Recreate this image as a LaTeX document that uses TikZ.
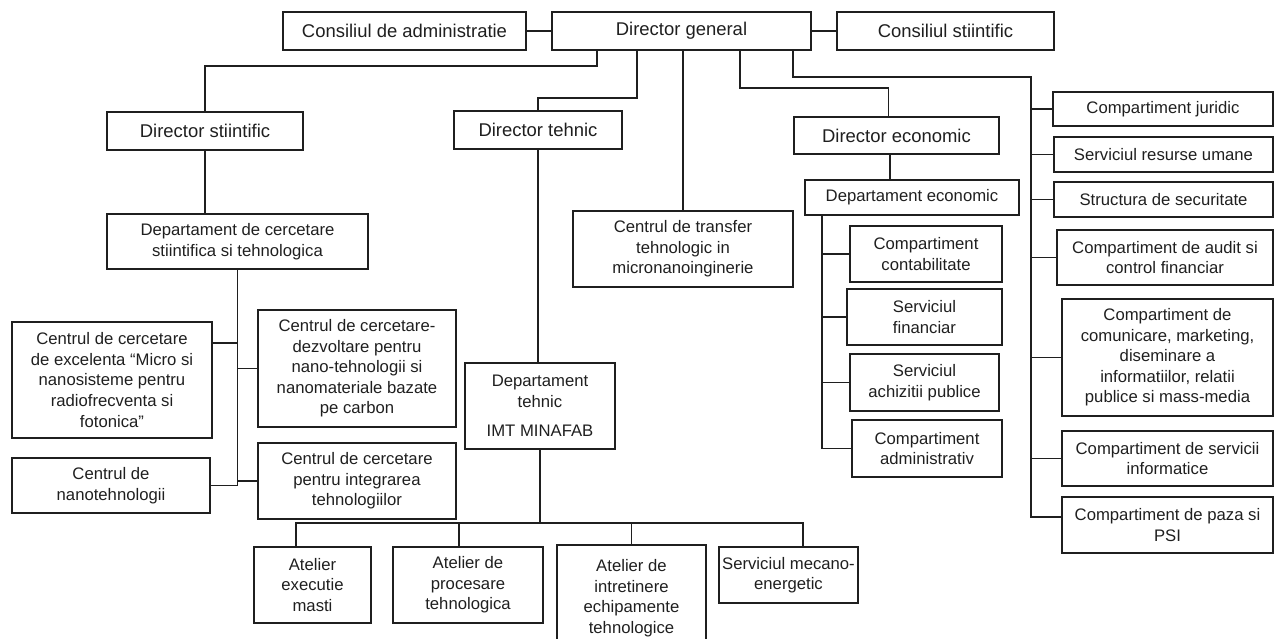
\documentclass[tikz,border=0pt]{standalone}
\usepackage{fontspec}
\setmainfont{Liberation Sans}
\usetikzlibrary{calc}
\tikzstyle{box}=[draw, align=center, inner sep=1pt, font=\fontsize{9.5}{11.7}\selectfont]
\tikzstyle{head}=[box, font=\fontsize{10.5}{12.6}\selectfont]
\tikzset{sz/.style 2 args={minimum width=#1*0.2mm, minimum height=#2*0.2mm}}

\begin{document}
\begin{tikzpicture}[x=0.2mm,y=-0.2mm,line width=1pt,color=black!88]
	\useasboundingbox (0,0) rectangle (1276,639);
	% top level
	\node[head, sz={243}{38}] (ca) at (404.5,31) {Consiliul de administratie};
	\node[head, sz={259}{38}] (dg) at (681.5,31) {Director general};
	\node[head, sz={217}{38}] (cs) at (945.5,31) {Consiliul stiintific};
	\node[head, sz={196}{38}] (ds) at (205,131) {Director stiintific};
	\node[head, sz={168}{38}] (dt) at (538,130) {Director tehnic};
	\node[head, sz={205}{37}] (de) at (896.5,135.5) {Director economic};
	% departments
	\node[box, sz={261}{55}] (dcst) at (237.5,241.5) {Departament de cercetare\\ stiintifica si tehnologica};
	\node[box, sz={220}{76}] (ctt) at (683,249) {Centrul de transfer\\ tehnologic in\\ micronanoinginerie};
	\node[box, sz={214}{35}] (dec) at (912,197.5) {Departament economic};
	\node[box, sz={150}{86}] (dtn) at (540,406) {Departament\\ tehnic\\[5pt] IMT MINAFAB};
	% research centres
	\node[box, sz={200}{116}] (cce) at (112,380) {Centrul de cercetare\\ de excelenta “Micro si\\ nanosisteme pentru\\ radiofrecventa si\\ fotonica”};
	\node[box, sz={198}{117}] (ccd) at (357,368.5) {Centrul de cercetare-\\ dezvoltare pentru\\ nano-tehnologii si\\ nanomateriale bazate\\ pe carbon};
	\node[box, sz={198}{55}] (cn) at (111,485.5) {Centrul de\\ nanotehnologii};
	\node[box, sz={198}{76}] (cci) at (357,481) {Centrul de cercetare\\ pentru integrarea\\ tehnologiilor};
	% economic units
	\node[box, sz={152}{56}] (cc) at (926,254) {Compartiment\\ contabilitate};
	\node[box, sz={155}{56}] (sf) at (924.5,317) {Serviciul\\ financiar};
	\node[box, sz={149}{57}] (sap) at (924.5,382.5) {Serviciul\\ achizitii publice};
	\node[box, sz={150}{57}] (cad) at (927,448.5) {Compartiment\\ administrativ};
	% staff units
	\node[box, sz={220}{34}] (cj) at (1163,109) {Compartiment juridic};
	\node[box, sz={219}{35}] (sru) at (1163.5,154.5) {Serviciul resurse umane};
	\node[box, sz={219}{35}] (ss) at (1163.5,199.5) {Structura de securitate};
	\node[box, sz={216}{55}] (cafi) at (1165,257.5) {Compartiment de audit si\\ control financiar};
	\node[box, sz={211}{117}] (ccom) at (1167.5,357.5) {Compartiment de\\ comunicare, marketing,\\ diseminare a\\ informatiilor, relatii\\ publice si mass-media};
	\node[box, sz={211}{55}] (csi) at (1167.5,458.5) {Compartiment de servicii\\ informatice};
	\node[box, sz={211}{56}] (cp) at (1167.5,525) {Compartiment de paza si\\ PSI};
	% workshops
	\node[box, sz={117}{76}] (aem) at (312.5,585) {Atelier\\ executie\\ masti};
	\node[box, sz={150}{76}] (apt) at (468,585) {Atelier de\\ procesare\\ tehnologica};
	\node[box, sz={149}{106}] (aie) at (631.5,598) {Atelier de\\ intretinere\\ echipamente\\ tehnologice};
	\node[box, sz={139}{56}] (sme) at (788.5,575) {Serviciul mecano-\\ energetic};

	% links from the top
	\draw (ca) -- (dg);
	\draw (dg) -- (cs);
	\draw ($(dg.south)+(-84.5,0)$) -- ++(0,15) -| (ds.north);
	\draw ($(dg.south)+(-44.5,0)$) -- ++(0,47) -| (dt.north);
	\draw (ctt.north |- dg.south) -- (ctt.north);
	\draw ($(dg.south)+(58.5,0)$) -- ++(0,37) -| ([xshift=-1.6mm]de.north);
	\coordinate (rbot) at (1031,517);
	\draw ($(dg.south)+(111.5,0)$) -- ++(0,26) -| (rbot) -- (rbot -| cp.west);
	\foreach \n in {cj,sru,ss,cafi,ccom,csi}
		\draw (\n.west) -- (\n.west -| rbot);

	% research branch
	\draw (ds.south) -- (ds.south |- dcst.north);
	\draw (dcst.south) -- (dcst.south |- cn.east) -- (cn.east);
	\coordinate (ccea) at ($(cce.east)+(0,-37)$);
	\draw (ccea) -- (ccea -| dcst.south);
	\draw (ccd.west) -- (ccd.west -| dcst.south);
	\draw (cci.west) -- (cci.west -| dcst.south);

	% technical branch
	\draw (dt.south) -- (dt.south |- dtn.north);
	\coordinate (tbus) at (540,523);
	\draw (dtn.south) -- (dtn.south |- tbus);
	\draw ([xshift=-3.3mm]aem.north) |- ([xshift=2.9mm]sme.north |- tbus) -- ([xshift=2.9mm]sme.north);
	\draw ([xshift=-1.8mm]apt.north) -- ([xshift=-1.8mm]apt.north |- tbus);
	\draw (aie.north) -- (aie.north |- tbus);

	% economic branch
	\draw ([xshift=-1.3mm]de.south) -- ([xshift=-1.3mm]de.south |- dec.north);
	\coordinate (etop) at ($(dec.south west)+(18,0)$);
	\draw (etop) |- (cad.west);
	\foreach \n in {cc,sf,sap}
		\draw (\n.west) -- (\n.west -| etop);
\end{tikzpicture}
\end{document}
